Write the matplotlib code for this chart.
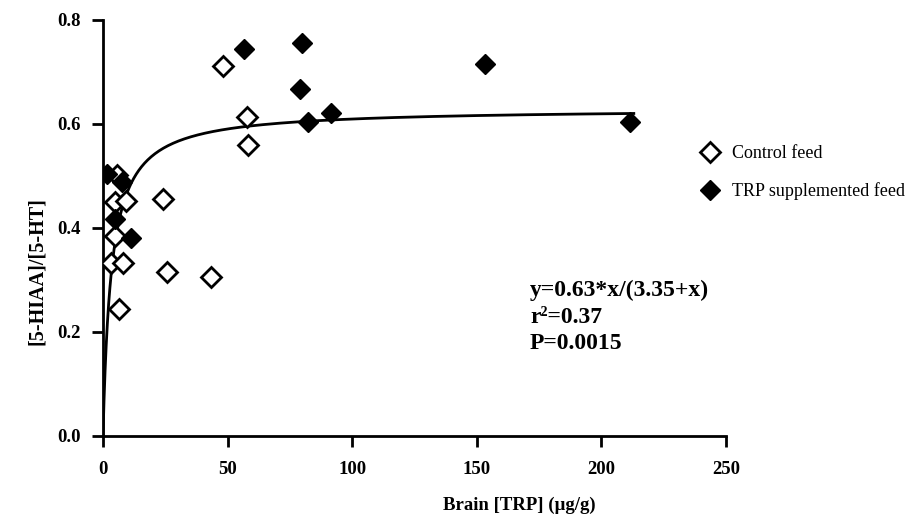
import numpy as np
import matplotlib
matplotlib.use("Agg")
import matplotlib.pyplot as plt

plt.rcParams['font.family'] = ['Liberation Serif', 'DejaVu Serif']

# Data
control_x = [48.2, 57.8, 58.2, 5.5, 4.8, 9.1, 23.9, 4.8, 3.1, 7.9, 25.8, 43.2, 6.5]
control_y = [0.712, 0.613, 0.560, 0.502, 0.450, 0.451, 0.456, 0.385, 0.332, 0.332, 0.316, 0.305, 0.244]
trp_x = [1.5, 7.5, 4.8, 11.2, 56.6, 80.0, 79.1, 91.5, 82.4, 153.3, 211.5]
trp_y = [0.504, 0.488, 0.417, 0.380, 0.744, 0.756, 0.667, 0.621, 0.603, 0.715, 0.604]

# Fit parameters (from the printed equation)
vmax = 0.63
km = 3.35
fit_xmax = 213

xticks = [0, 50, 100, 150, 200, 250]
yticks = [0.0, 0.2, 0.4, 0.6, 0.8]

fig = plt.figure(figsize=(9.11, 5.16), dpi=100)
ax = fig.add_axes([103/911, 1-436/516, (726-103)/911, (436-20)/516])

xf = np.concatenate([[0], np.geomspace(0.01, fit_xmax, 400)])
yf = vmax * xf / (km + xf)
ax.plot(xf, yf, color='black', lw=2, zorder=2)

ax.plot(control_x, control_y, linestyle='none', marker='D', ms=10.5, mfc='white',
        mec='black', mew=2, label='Control feed', zorder=3)
ax.plot(trp_x, trp_y, linestyle='none', marker='D', ms=10.5, mfc='black',
        mec='black', mew=1, label='TRP supplemented feed', zorder=3)

ax.set_xlim(0, 250)
ax.set_ylim(0, 0.8)
ax.set_xticks(xticks)
ax.set_yticks(yticks)
ax.set_xticklabels([str(t) for t in xticks], fontsize=13.5, fontweight='bold')
ax.set_yticklabels([f'{t:.1f}' for t in yticks], fontsize=13.5, fontweight='bold')
for s in ['top', 'right']:
    ax.spines[s].set_visible(False)
for s in ['left', 'bottom']:
    ax.spines[s].set_linewidth(2)
ax.tick_params(axis='both', direction='out', width=2, length=8)
ax.tick_params(axis='x', pad=10)
ax.tick_params(axis='y', pad=8)
ax.spines['left'].set_zorder(1)
ax.spines['bottom'].set_zorder(1)

fig.text(519/911, 1-505/516, 'Brain [TRP] (µg/g)', ha='center', va='center',
         fontsize=13.5, fontweight='bold')
fig.text(37/911, 1-271/516, '[5-HIAA]/[5-HT]', ha='center', va='center',
         rotation=90, fontsize=14.5, fontweight='bold')

fig.text(530/911, 1-317/516, 'y=0.63*x/(3.35+x)\nr²=0.37\nP=0.0015',
         ha='left', va='center', fontsize=17, fontweight='bold', linespacing=1.34)

fig.legend(loc='upper left', bbox_to_anchor=(692/911, 1-138/516), frameon=False,
           fontsize=13, handletextpad=0.6, labelspacing=1.1, handlelength=1.2,
           borderaxespad=0)

fig.savefig('out.png', dpi=100)
